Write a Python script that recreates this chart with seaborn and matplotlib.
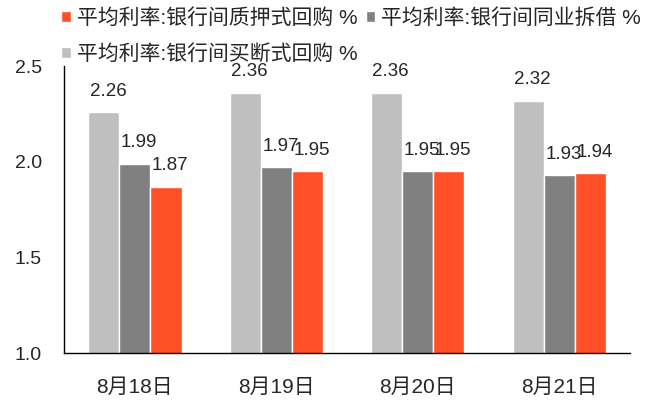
import pandas as pd
import seaborn as sns
import matplotlib.pyplot as plt

dates = ['8月18日', '8月19日', '8月20日', '8月21日']
series_names = ['平均利率:银行间买断式回购 %', '平均利率:银行间同业拆借 %', '平均利率:银行间质押式回购 %']
buyout = [2.26, 2.36, 2.36, 2.32]
interbank = [1.99, 1.97, 1.95, 1.93]
pledge = [1.87, 1.95, 1.95, 1.94]
colors = ['#BFBFBF', '#808080', '#FF5027']

rows = []
for name, vals in zip(series_names, [buyout, interbank, pledge]):
    for d, v in zip(dates, vals):
        rows.append({'日期': d, '系列': name, '值': v})
df = pd.DataFrame(rows)

sns.set_style('white')
plt.rcParams['font.family'] = ['Liberation Sans', 'Noto Sans CJK SC', 'DejaVu Sans']

fig = plt.figure(figsize=(6.61, 4.03), dpi=100)
ax = fig.add_axes([0.097, 0.124, 0.856, 0.712])
bar_w = 0.66
sns.barplot(data=df, x='日期', y='值', hue='系列', hue_order=series_names,
            palette=colors, width=bar_w, ax=ax, saturation=1)

# 数据标签
step = bar_w / 3
for j, vals in enumerate([buyout, interbank, pledge]):
    for i, v in enumerate(vals):
        ax.annotate(f'{v:.2f}', (i + (j - 1) * step, v),
                    xytext=(3, 9), textcoords='offset points',
                    ha='center', va='bottom', fontsize=13.5)

ax.set_ylim(1.0, 2.5)
ax.set_yticks([1.0, 1.5, 2.0, 2.5])
ax.set_yticklabels(['1.0', '1.5', '2.0', '2.5'], fontsize=14)
ax.set_xlim(-0.5, 3.5)
ax.set_xticks([-0.5, 0.5, 1.5, 2.5, 3.5])
ax.set_xticklabels([])
ax.set_xticks([0, 1, 2, 3], minor=True)
ax.set_xticklabels(dates, minor=True, fontsize=15)
ax.tick_params(axis='x', which='minor', length=0, pad=18)
ax.tick_params(axis='x', which='major', direction='in', length=5, color='black', width=1)
ax.tick_params(axis='y', direction='in', length=5, color='black', width=1, pad=16)
ax.set_xlabel('')
ax.set_ylabel('')
for s in ['top', 'right']:
    ax.spines[s].set_visible(False)
for s in ['left', 'bottom']:
    ax.spines[s].set_color('black')
    ax.spines[s].set_linewidth(1)

handles, labels = ax.get_legend_handles_labels()
order = [2, 0, 1]
ax.legend([handles[i] for i in order], [labels[i] for i in order],
          loc='upper left', bbox_to_anchor=(-0.02, 1.23), ncol=2, frameon=False,
          fontsize=15, handlelength=0.45, handleheight=0.45, handletextpad=0.3,
          columnspacing=0.4, borderaxespad=0, labelspacing=0.75)

fig.savefig('out.png', dpi=100)
